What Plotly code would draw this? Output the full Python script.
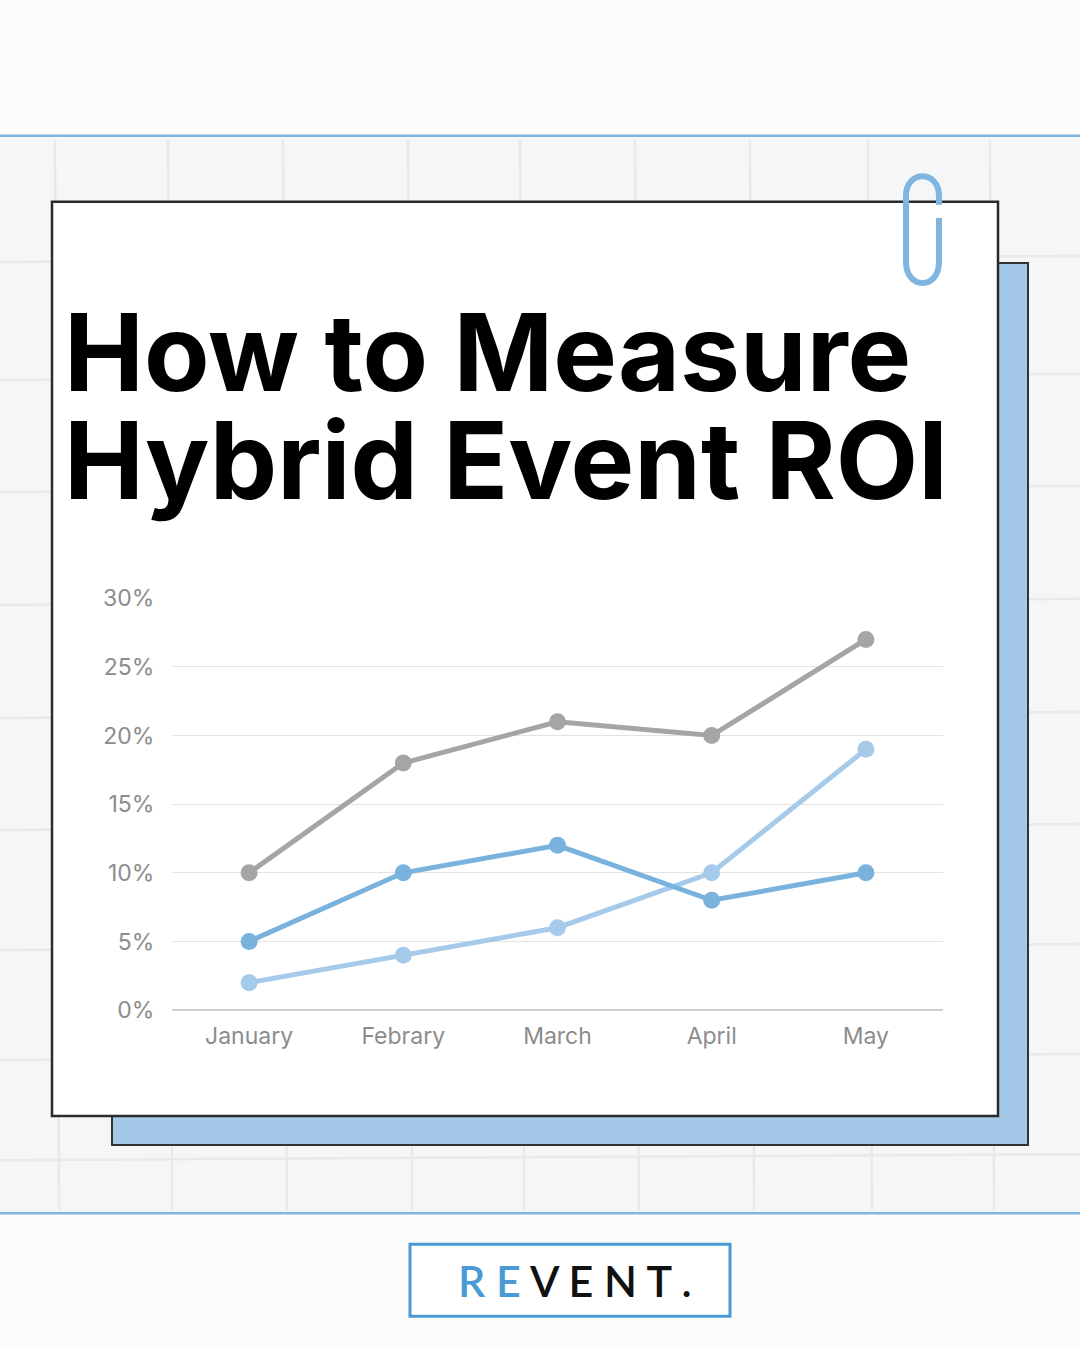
import plotly.graph_objects as go

W, H = 1080, 1350

months = ["January", "Febrary", "March", "April", "May"]
series_grey = [10, 18, 21, 20, 27]
series_blue = [5, 10, 12, 8, 10]
series_light = [2, 4, 6, 10, 19]
y_ticks = [0, 5, 10, 15, 20, 25, 30]


def px(x):
    return x / W


def py(y):
    # the page comes out slightly squashed vertically; stretch positions to compensate
    y = 675 + (y - 675) / 0.979
    return 1 - y / H


def rect(x0, y0, x1, y1, fill, line=None, lw=0):
    return dict(type="rect", xref="paper", yref="paper",
                x0=px(x0), x1=px(x1), y0=py(y1), y1=py(y0),
                fillcolor=fill, line=dict(color=line or fill, width=lw), layer="below")


def seg(x0, y0, x1, y1, color, w):
    return dict(type="line", xref="paper", yref="paper",
                x0=px(x0), x1=px(x1), y0=py(y0), y1=py(y1),
                line=dict(color=color, width=w), layer="below")


shapes = [
    rect(0, 136, W, 1213, "#f5f6f8"),
]
# faint notebook grid in the background
for gx in [55, 168, 283, 408, 520, 635, 750, 868, 990]:
    shapes.append(seg(gx, 140, gx + 4, 1210, "#e9e9e9", 2.5))
for gy in [262, 380, 492, 605, 718, 830, 950, 1060, 1160]:
    shapes.append(seg(0, gy, W, gy - 6, "#e9e9e9", 2.5))
shapes += [
    seg(0, 136, W, 136, "#7fb5df", 2.5),
    seg(0, 1213, W, 1213, "#7fb5df", 2.5),
    rect(112, 263, 1028, 1145, "#a4c8e8", "#333333", 2),
    rect(52, 202, 998, 1116, "#ffffff", "#2b2b2b", 2.5),
    rect(410, 1244, 730, 1316, "#ffffff", "#4a9ad4", 3),
]

# paperclip
def P(x, y):
    return f"{px(x):.5f},{py(y):.5f}"

clip = (f"M{P(939,205)} L{P(939,196)} C{P(939,170)} {P(906,170)} {P(906,196)} "
        f"L{P(906,262)} C{P(906,290)} {P(939,290)} {P(939,262)} L{P(939,218)}")
shapes.append(dict(type="path", xref="paper", yref="paper", path=clip,
                   line=dict(color="#7fb5df", width=6)))

fig = go.Figure()
for vals, color in [(series_light, "#a6cbea"), (series_blue, "#79b2dd"), (series_grey, "#a5a5a5")]:
    fig.add_trace(go.Scatter(x=months, y=vals, mode="lines+markers",
                             line=dict(color=color, width=5),
                             marker=dict(size=17, color=color)))

title_font = dict(family="Inter", size=107, color="#000000", weight=800)
axis_font = dict(family="Inter", size=23, color="#8c8c8c")
fig.update_layout(
    width=W, height=H, margin=dict(l=0, r=0, t=0, b=0),
    paper_bgcolor="#fcfcfc", plot_bgcolor="rgba(0,0,0,0)",
    showlegend=False, shapes=shapes,
    xaxis=dict(domain=[px(172), px(943)], range=[-0.5, 4.5], showgrid=False,
               zeroline=False, showline=False, ticks="outside", ticklen=5,
               tickcolor="rgba(0,0,0,0)", tickfont=axis_font),
    yaxis=dict(domain=[py(1010), py(598)], range=[0, 30.02], tickvals=y_ticks,
               ticktext=[f"{v}%" for v in y_ticks], gridcolor="#e3e3e3", gridwidth=1,
               zeroline=True, zerolinecolor="#cfcfcf", zerolinewidth=1.5,
               ticks="outside", ticklen=12, tickcolor="rgba(0,0,0,0)",
               tickfont=axis_font),
    annotations=[
        dict(text="<b>How to Measure</b>", xref="paper", yref="paper",
             x=px(62), y=py(352), xanchor="left", yanchor="middle",
             showarrow=False, font=title_font),
        dict(text="<b>Hybrid Event ROI</b>", xref="paper", yref="paper",
             x=px(62), y=py(460), xanchor="left", yanchor="middle",
             showarrow=False, font=title_font),
        dict(text="<span style='color:#4a9ad4'>R E </span>V E N T .", xref="paper", yref="paper",
             x=px(575), y=py(1280), xanchor="center", yanchor="middle", showarrow=False,
             font=dict(family="Lato", size=43, color="#111111", weight=600)),
    ],
)
fig.write_html(
    "out.html",
    config={"displayModeBar": False},
    post_script=(
        "document.documentElement.style.cssText='margin:0;padding:0;overflow:hidden;height:1350px';"
        "document.body.style.cssText='margin:0;padding:0;overflow:hidden;height:1350px';"
    ),
)
